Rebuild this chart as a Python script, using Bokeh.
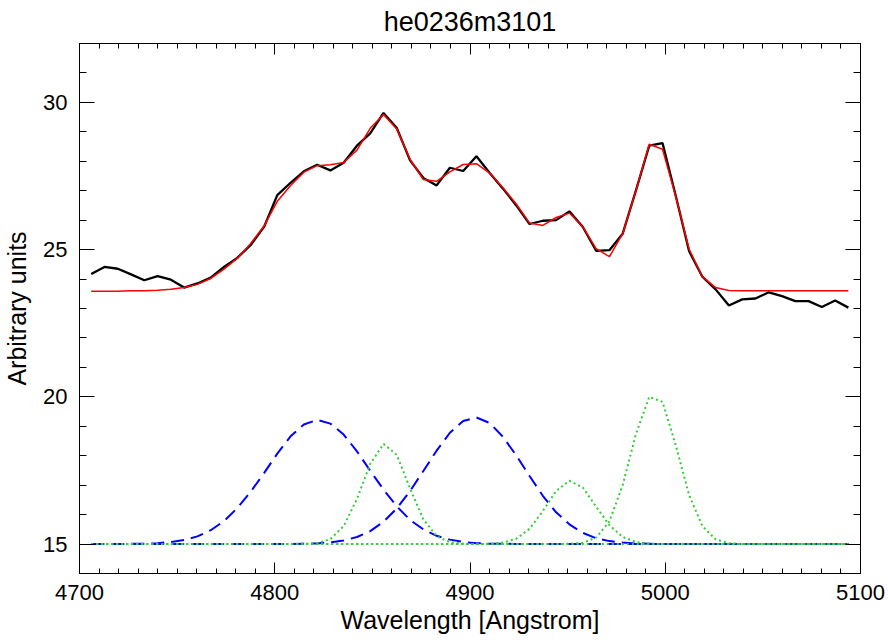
from bokeh.plotting import figure
from bokeh.models import Range1d, LinearAxis, FixedTicker, CustomLabelingPolicy
from bokeh.embed import file_html
from bokeh.resources import INLINE

wavelength = [4706.0, 4712.8, 4719.6, 4726.4, 4733.2, 4740.0, 4746.8, 4753.6, 4760.4, 4767.2,
              4774.0, 4780.8, 4787.6, 4794.5, 4801.3, 4808.1, 4814.9, 4821.7, 4828.5, 4835.3,
              4842.1, 4848.9, 4855.7, 4862.5, 4869.3, 4876.1, 4882.9, 4889.7, 4896.5, 4903.3,
              4910.1, 4916.9, 4923.7, 4930.5, 4937.3, 4944.1, 4950.9, 4957.8, 4964.6, 4971.4,
              4978.2, 4985.0, 4991.8, 4998.6, 5005.4, 5012.2, 5019.0, 5025.8, 5032.6, 5039.4,
              5046.2, 5053.0, 5059.8, 5066.6, 5073.4, 5080.2, 5087.0, 5093.8]

flux = [24.17, 24.41, 24.35, 24.16, 23.96, 24.10, 23.98, 23.71, 23.85, 24.05,
        24.41, 24.72, 25.15, 25.77, 26.85, 27.27, 27.66, 27.88, 27.69, 27.95,
        28.53, 28.95, 29.64, 29.13, 28.03, 27.43, 27.18, 27.78, 27.67, 28.17,
        27.60, 27.07, 26.50, 25.87, 25.98, 26.00, 26.30, 25.77, 24.96, 24.98,
        25.54, 27.01, 28.53, 28.62, 26.82, 24.95, 24.08, 23.65, 23.10, 23.31,
        23.34, 23.55, 23.42, 23.25, 23.25, 23.05, 23.27, 23.03]

fit = [23.59, 23.59, 23.59, 23.60, 23.60, 23.62, 23.65, 23.71, 23.82, 24.02,
       24.34, 24.70, 25.20, 25.80, 26.64, 27.18, 27.63, 27.85, 27.88, 27.96,
       28.38, 29.12, 29.59, 29.10, 28.07, 27.38, 27.32, 27.64, 27.89, 27.92,
       27.60, 27.10, 26.55, 25.90, 25.82, 26.09, 26.24, 25.77, 25.03, 24.76,
       25.54, 27.01, 28.58, 28.41, 26.80, 25.02, 24.08, 23.71, 23.61, 23.60,
       23.60, 23.60, 23.60, 23.60, 23.60, 23.60, 23.60, 23.60]

broad_1 = [15.00, 15.00, 15.00, 15.01, 15.01, 15.03, 15.07, 15.14, 15.26, 15.47,
           15.78, 16.22, 16.77, 17.41, 18.07, 18.66, 19.06, 19.22, 19.09, 18.72,
           18.15, 17.49, 16.85, 16.28, 15.82, 15.50, 15.28, 15.15, 15.07, 15.03,
           15.01, 15.01, 15.00, 15.00, 15.00, 15.00, 15.00, 15.00, 15.00, 15.00,
           15.00, 15.00, 15.00, 15.00, 15.00, 15.00, 15.00, 15.00, 15.00, 15.00,
           15.00, 15.00, 15.00, 15.00, 15.00, 15.00, 15.00, 15.00]

broad_2 = [15.00, 15.00, 15.00, 15.00, 15.00, 15.00, 15.00, 15.00, 15.00, 15.00,
           15.00, 15.00, 15.00, 15.00, 15.00, 15.00, 15.01, 15.02, 15.06, 15.12,
           15.24, 15.44, 15.76, 16.21, 16.80, 17.48, 18.17, 18.78, 19.18, 19.30,
           19.11, 18.64, 18.01, 17.31, 16.64, 16.08, 15.67, 15.38, 15.20, 15.10,
           15.05, 15.02, 15.01, 15.00, 15.00, 15.00, 15.00, 15.00, 15.00, 15.00,
           15.00, 15.00, 15.00, 15.00, 15.00, 15.00, 15.00, 15.00]

narrow_1 = [15.00, 15.00, 15.00, 15.00, 15.00, 15.00, 15.00, 15.00, 15.00, 15.00,
            15.00, 15.00, 15.00, 15.00, 15.00, 15.00, 15.01, 15.03, 15.17, 15.61,
            16.53, 17.72, 18.40, 18.03, 16.89, 15.84, 15.27, 15.06, 15.01, 15.00,
            15.00, 15.00, 15.00, 15.00, 15.00, 15.00, 15.00, 15.00, 15.00, 15.00,
            15.00, 15.00, 15.00, 15.00, 15.00, 15.00, 15.00, 15.00, 15.00, 15.00,
            15.00, 15.00, 15.00, 15.00, 15.00, 15.00, 15.00, 15.00]

narrow_2 = [15.00, 15.00, 15.00, 15.00, 15.00, 15.00, 15.00, 15.00, 15.00, 15.00,
            15.00, 15.00, 15.00, 15.00, 15.00, 15.00, 15.00, 15.00, 15.00, 15.00,
            15.00, 15.00, 15.00, 15.00, 15.00, 15.00, 15.00, 15.00, 15.00, 15.00,
            15.01, 15.05, 15.18, 15.52, 16.12, 16.80, 17.15, 16.92, 16.27, 15.64,
            15.24, 15.07, 15.01, 15.00, 15.00, 15.00, 15.00, 15.00, 15.00, 15.00,
            15.00, 15.00, 15.00, 15.00, 15.00, 15.00, 15.00, 15.00]

narrow_3 = [15.00, 15.00, 15.00, 15.00, 15.00, 15.00, 15.00, 15.00, 15.00, 15.00,
            15.00, 15.00, 15.00, 15.00, 15.00, 15.00, 15.00, 15.00, 15.00, 15.00,
            15.00, 15.00, 15.00, 15.00, 15.00, 15.00, 15.00, 15.00, 15.00, 15.00,
            15.00, 15.00, 15.00, 15.00, 15.00, 15.00, 15.01, 15.04, 15.22, 15.77,
            17.00, 18.74, 20.00, 19.83, 18.35, 16.67, 15.61, 15.16, 15.03, 15.00,
            15.00, 15.00, 15.00, 15.00, 15.00, 15.00, 15.00, 15.00]

x_ticks = [4700, 4800, 4900, 5000, 5100]
x_minor_ticks = list(range(4700, 5101, 10))
y_ticks = [15, 20, 25, 30]
y_minor_ticks = list(range(14, 33, 1))

FONT = "Liberation Sans"

p = figure(width=888, height=644,
           x_range=Range1d(4700, 5100), y_range=Range1d(14, 32),
           output_backend="svg", toolbar_location=None,
           x_axis_location=None, y_axis_location=None,
           min_border_left=79, min_border_right=28,
           min_border_top=43, min_border_bottom=71)

p.xgrid.visible = False
p.ygrid.visible = False
p.outline_line_color = "black"
p.outline_line_width = 1
p.background_fill_color = "white"
p.border_fill_color = "white"

p.title.text = "he0236m3101"
p.title.align = "center"
p.title.text_font = FONT
p.title.text_font_size = "27px"
p.title.text_font_style = "normal"
p.title.text_color = "black"
p.title.standoff = 5


def make_axis(ticks, minor, tick_len, label, show_labels):
    ax = LinearAxis(ticker=FixedTicker(ticks=ticks, minor_ticks=minor))
    ax.axis_line_color = "black"
    ax.major_tick_line_color = "black"
    ax.minor_tick_line_color = "black"
    ax.major_tick_in = tick_len
    ax.major_tick_out = 0
    ax.minor_tick_in = tick_len // 2
    ax.minor_tick_out = 0
    if show_labels:
        ax.major_label_text_font = FONT
        ax.major_label_text_font_size = "22px"
        ax.major_label_text_color = "black"
        ax.axis_label = label
        ax.axis_label_text_font = FONT
        ax.axis_label_text_font_size = "25px"
        ax.axis_label_text_font_style = "normal"
        ax.axis_label_text_color = "black"
    else:
        # tick marks only: no label is drawn on the mirror axes
        ax.major_label_policy = CustomLabelingPolicy(code="return []")
        ax.major_label_text_font_size = "2px"
        ax.major_label_standoff = 0
        ax.axis_label = None
    return ax


bottom = make_axis(x_ticks, x_minor_ticks, 11, "Wavelength [Angstrom]", True)
bottom.major_label_standoff = 11
bottom.axis_label_standoff = 3
left = make_axis(y_ticks, y_minor_ticks, 15, "Arbitrary units", True)
left.major_label_standoff = 12
left.axis_label_standoff = 9
top = make_axis(x_ticks, x_minor_ticks, 11, None, False)
right = make_axis(y_ticks, y_minor_ticks, 15, None, False)

p.add_layout(bottom, "below")
p.add_layout(left, "left")
p.add_layout(top, "above")
p.add_layout(right, "right")

p.line(wavelength, flux, line_color="black", line_width=2.3)
p.line(wavelength, fit, line_color="#ff0000", line_width=1.5)
p.line(wavelength, broad_1, line_color="#0000ff", line_width=2, line_dash="13 7")
p.line(wavelength, broad_2, line_color="#0000ff", line_width=2, line_dash="13 7")
p.line(wavelength, narrow_1, line_color="#33cc33", line_width=2, line_dash="2 3")
p.line(wavelength, narrow_2, line_color="#33cc33", line_width=2, line_dash="2 3")
p.line(wavelength, narrow_3, line_color="#33cc33", line_width=2, line_dash="2 3")

open("out.html", "w").write(file_html(p, INLINE))
